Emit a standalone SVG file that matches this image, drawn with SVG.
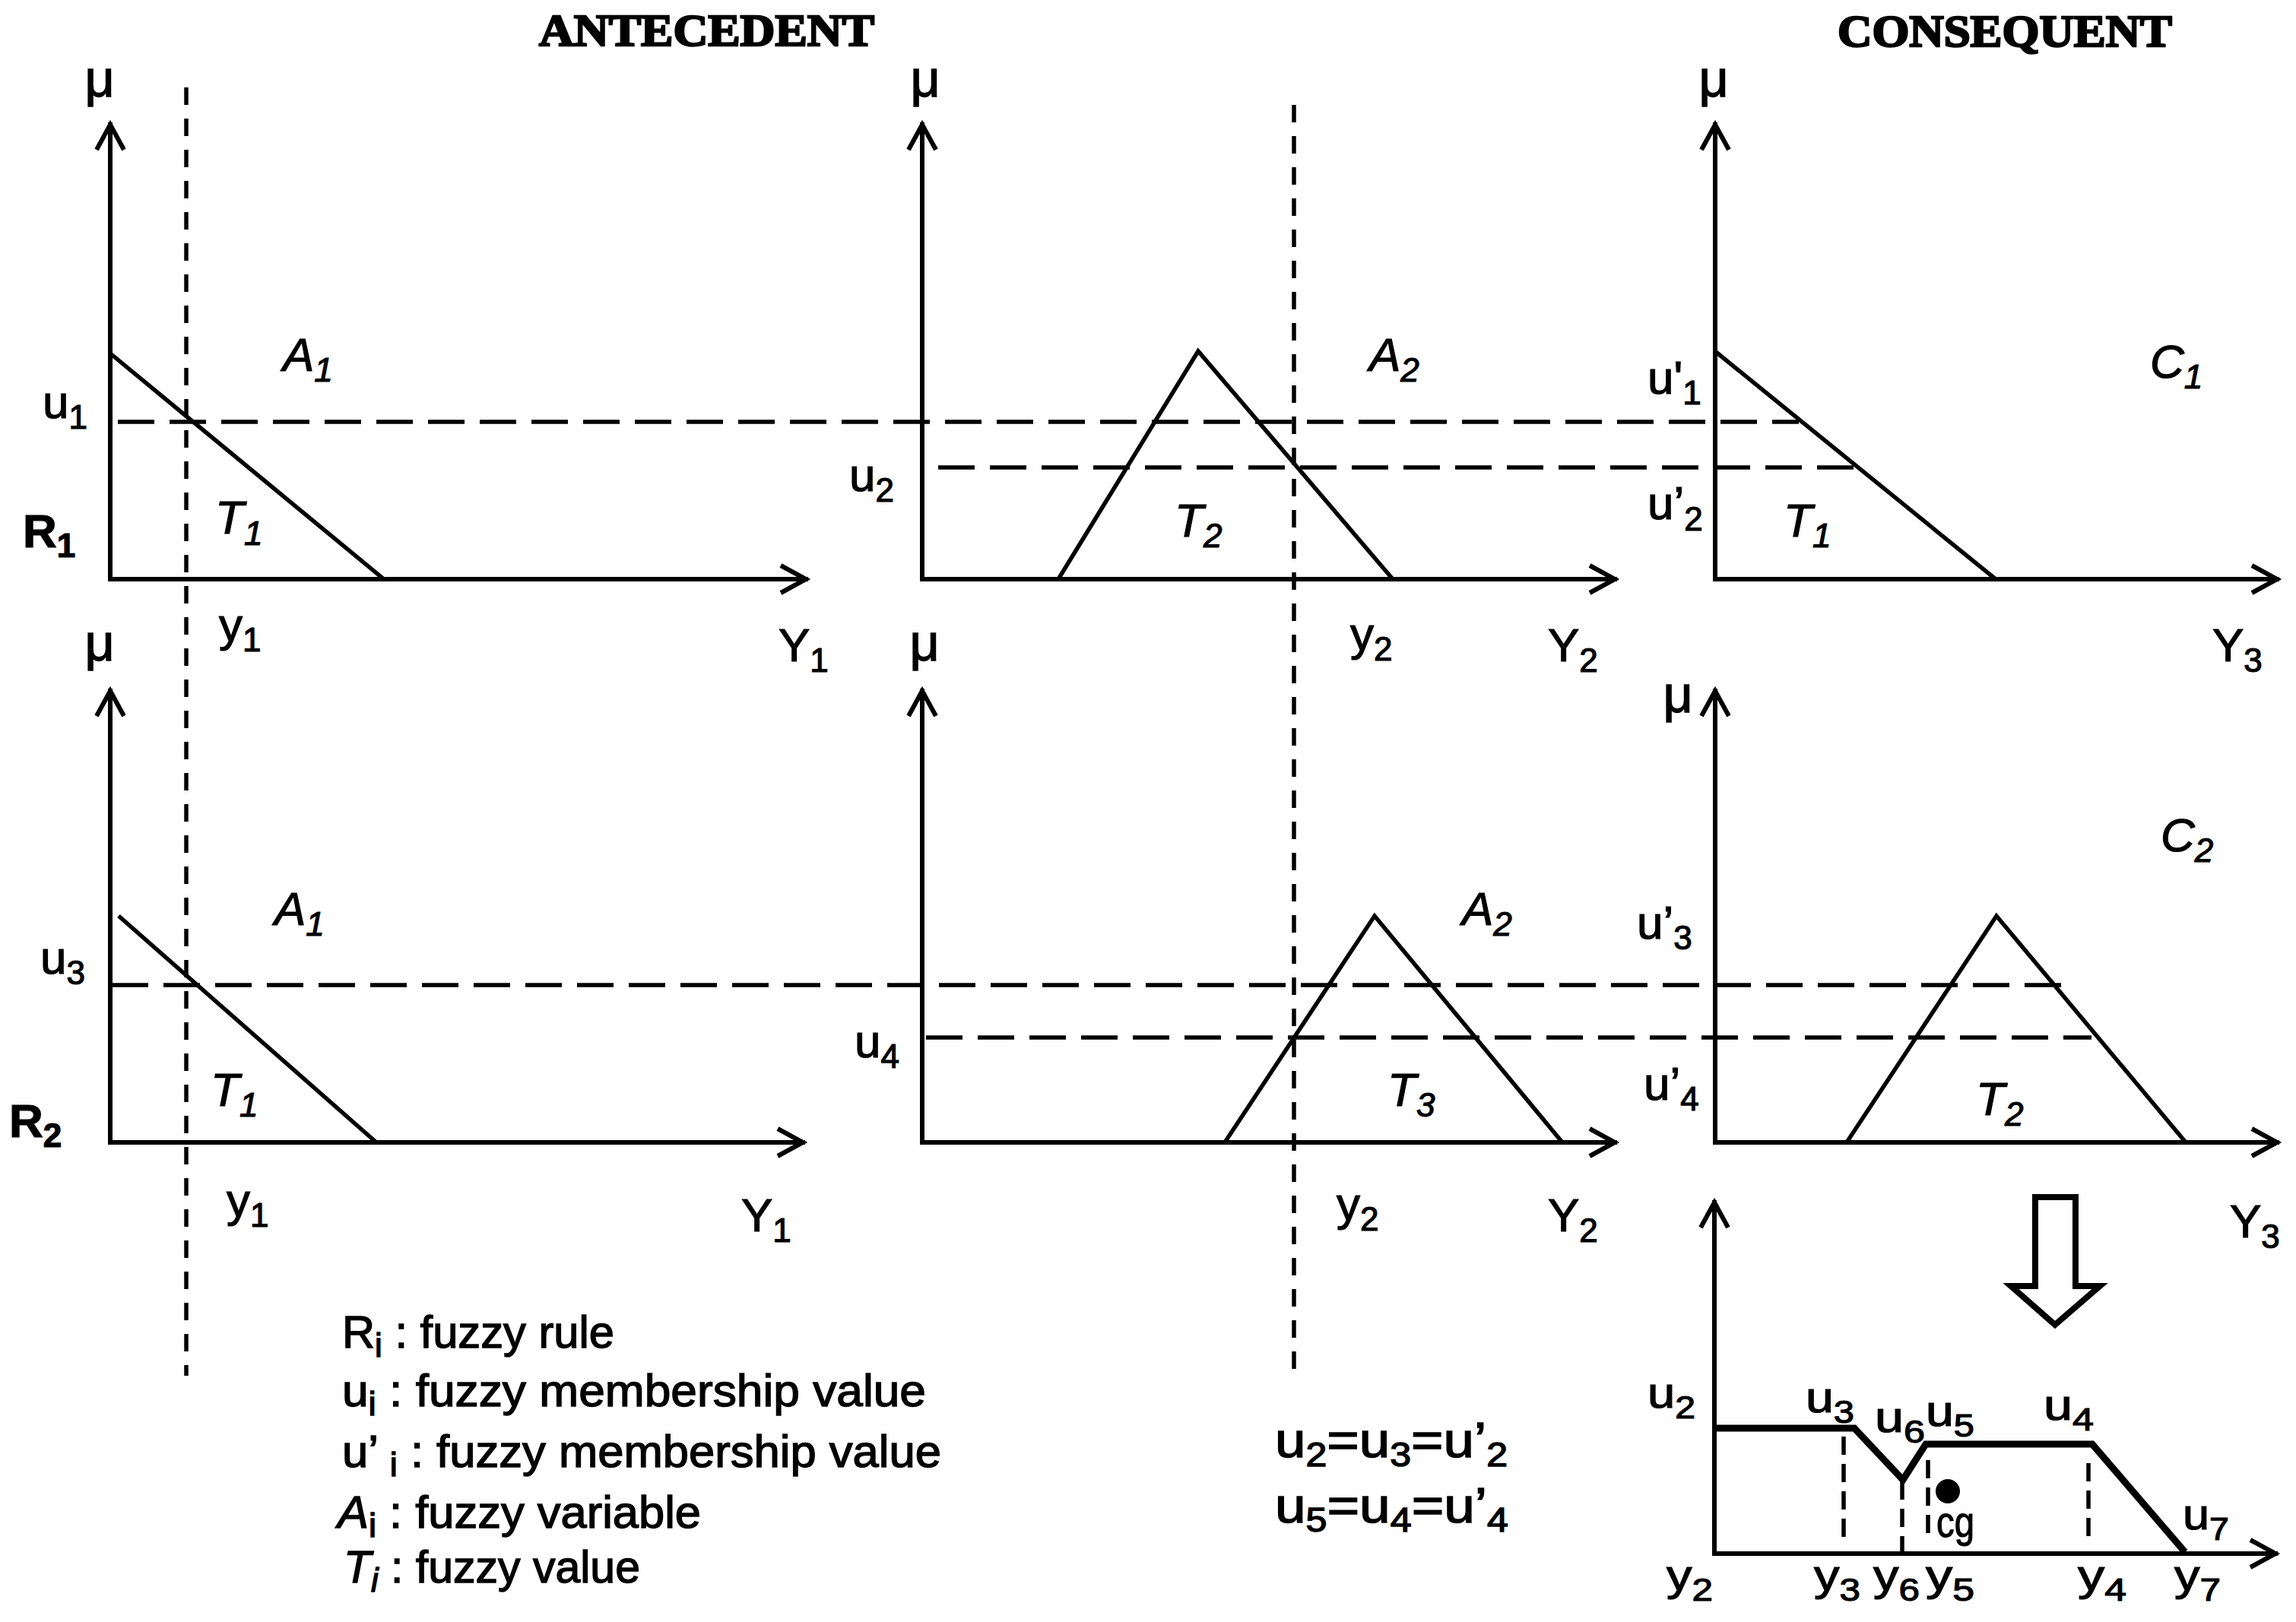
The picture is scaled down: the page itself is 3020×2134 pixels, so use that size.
<svg xmlns="http://www.w3.org/2000/svg" width="3020" height="2134" viewBox="0 0 3020 2134">
<style>
.ax{fill:none;stroke:#000;stroke-width:6;stroke-linecap:square}
.mf{fill:none;stroke:#000;stroke-width:5.5;stroke-linejoin:miter}
.hd{fill:none;stroke:#000;stroke-width:5.5;stroke-dasharray:48 20}
.vd{fill:none;stroke:#000;stroke-width:5.5;stroke-dasharray:23 18}
.sd{fill:none;stroke:#000;stroke-width:5.5;stroke-dasharray:24 12}
.t{font-family:"Liberation Sans",Arial,sans-serif;font-size:62px;fill:#000;stroke:#000;stroke-width:1.2}
.o{font-size:57px}
.mu{font-family:"Liberation Sans",Arial,sans-serif;font-size:68px;fill:#000;stroke:#000;stroke-width:1.4;text-anchor:middle}
.s{font-size:44px}
.so{font-size:42px}
.i{font-style:italic}
.b{font-weight:bold}
.ttl{font-family:"Liberation Serif","Times New Roman",serif;font-weight:bold;font-size:60px;fill:#000;stroke:#000;stroke-width:2.5}
.lg{font-family:"Liberation Sans",Arial,sans-serif;font-size:60px;fill:#000;stroke:#000;stroke-width:1.4}
.eq{font-family:"Liberation Sans",Arial,sans-serif;font-size:64px;fill:#000;stroke:#000;stroke-width:1.4}
</style>
<defs>
<marker id="arr" viewBox="-40 -25 50 50" markerWidth="50" markerHeight="50" refX="0" refY="0" orient="auto" markerUnits="userSpaceOnUse" overflow="visible">
<path d="M-33,-18 L0,0 L-33,18" fill="none" stroke="#000" stroke-width="6" stroke-linejoin="miter"/>
</marker>
</defs>
<rect width="3020" height="2134" fill="#fff"/>

<g id="titles">
<text class="ttl" x="709" y="60" textLength="441" lengthAdjust="spacingAndGlyphs">ANTECEDENT</text>
<text class="ttl" x="2417" y="61" textLength="440" lengthAdjust="spacingAndGlyphs">CONSEQUENT</text>
</g>

<g id="connectors">
<line class="hd" x1="155" y1="555" x2="2366" y2="555"/>
<line class="hd" x1="1234" y1="615" x2="2442" y2="615"/>
<line class="hd" x1="147" y1="1296" x2="2725" y2="1296"/>
<line class="hd" x1="1218" y1="1365" x2="2751" y2="1365"/>
<line class="vd" x1="245" y1="115" x2="245" y2="1810"/>
<line class="vd" x1="1702" y1="138" x2="1702" y2="1810"/>
</g>

<g id="panel-r1-a1">
<line class="ax" x1="145" y1="762" x2="145" y2="164" marker-end="url(#arr)"/>
<line class="ax" x1="145" y1="762" x2="1060" y2="762" marker-end="url(#arr)"/>
<polyline class="mf" points="145,465 505,762"/>
<text class="mu" x="131" y="127">μ</text>
<text class="t" x="56" y="550">u<tspan class="s" dy="14">1</tspan></text>
<text class="t i" x="372" y="488">A<tspan class="s" dy="14">1</tspan></text>
<text class="t i" x="283" y="702">T<tspan class="s" dy="15">1</tspan></text>
<text class="t b" x="30" y="720">R<tspan class="s" dy="13">1</tspan></text>
<text class="t" x="288" y="843">y<tspan class="s" dy="14">1</tspan></text>
<text class="t" x="1024" y="870">Y<tspan class="s" dy="14">1</tspan></text>
</g>

<g id="panel-r1-a2">
<line class="ax" x1="1213" y1="762" x2="1213" y2="164" marker-end="url(#arr)"/>
<line class="ax" x1="1213" y1="762" x2="2124" y2="762" marker-end="url(#arr)"/>
<polyline class="mf" points="1392,762 1576,462 1832,762"/>
<text class="mu" x="1217" y="127">μ</text>
<text class="t" x="1117" y="646">u<tspan class="s" dy="14">2</tspan></text>
<text class="t i" x="1801" y="488">A<tspan class="s" dy="14">2</tspan></text>
<text class="t i" x="1545" y="706">T<tspan class="s" dy="14">2</tspan></text>
<text class="t" x="1776" y="855">y<tspan class="s" dy="14">2</tspan></text>
<text class="t" x="2036" y="870">Y<tspan class="s" dy="14">2</tspan></text>
</g>

<g id="panel-r1-c1">
<line class="ax" x1="2256" y1="762" x2="2256" y2="164" marker-end="url(#arr)"/>
<line class="ax" x1="2256" y1="762" x2="2995" y2="762" marker-end="url(#arr)"/>
<polyline class="mf" points="2257,463 2625,762"/>
<text class="mu" x="2254" y="127">μ</text>
<text class="t" x="2167" y="518">u'<tspan class="s" dy="14">1</tspan></text>
<text class="t" x="2167" y="683">u’<tspan class="s" dy="15">2</tspan></text>
<text class="t i" x="2346" y="706">T<tspan class="s" dy="14">1</tspan></text>
<text class="t i" x="2828" y="497">C<tspan class="s" dy="14">1</tspan></text>
<text class="t" x="2910" y="870">Y<tspan class="s" dy="14">3</tspan></text>
</g>

<g id="panel-r2-a1">
<line class="ax" x1="145" y1="1503" x2="145" y2="909" marker-end="url(#arr)"/>
<line class="ax" x1="145" y1="1503" x2="1056" y2="1503" marker-end="url(#arr)"/>
<polyline class="mf" points="156,1205 495,1503"/>
<text class="mu" x="131" y="869">μ</text>
<text class="t" x="53" y="1281">u<tspan class="s" dy="14">3</tspan></text>
<text class="t i" x="361" y="1217">A<tspan class="s" dy="14">1</tspan></text>
<text class="t i" x="277" y="1455">T<tspan class="s" dy="14">1</tspan></text>
<text class="t b" x="12" y="1496">R<tspan class="s" dy="13">2</tspan></text>
<text class="t" x="298" y="1600">y<tspan class="s" dy="14">1</tspan></text>
<text class="t" x="975" y="1620">Y<tspan class="s" dy="14">1</tspan></text>
</g>

<g id="panel-r2-a2">
<line class="ax" x1="1213" y1="1503" x2="1213" y2="909" marker-end="url(#arr)"/>
<line class="ax" x1="1213" y1="1503" x2="2124" y2="1503" marker-end="url(#arr)"/>
<polyline class="mf" points="1611,1503 1808,1205 2055,1503"/>
<text class="mu" x="1216" y="869">μ</text>
<text class="t" x="1124" y="1391">u<tspan class="s" dy="14">4</tspan></text>
<text class="t i" x="1923" y="1217">A<tspan class="s" dy="14">2</tspan></text>
<text class="t i" x="1825" y="1455">T<tspan class="s" dy="14">3</tspan></text>
<text class="t" x="1758" y="1605">y<tspan class="s" dy="14">2</tspan></text>
<text class="t" x="2036" y="1620">Y<tspan class="s" dy="14">2</tspan></text>
</g>

<g id="panel-r2-c2">
<line class="ax" x1="2256" y1="1503" x2="2256" y2="909" marker-end="url(#arr)"/>
<line class="ax" x1="2256" y1="1503" x2="2995" y2="1503" marker-end="url(#arr)"/>
<polyline class="mf" points="2429,1503 2626,1205 2875,1503"/>
<text class="mu" x="2207" y="937">μ</text>
<text class="t" x="2153" y="1235">u’<tspan class="s" dy="14">3</tspan></text>
<text class="t" x="2162" y="1447">u’<tspan class="s" dy="14">4</tspan></text>
<text class="t i" x="2842" y="1120">C<tspan class="s" dy="14">2</tspan></text>
<text class="t i" x="2599" y="1467">T<tspan class="s" dy="14">2</tspan></text>
<text class="t" x="2933" y="1628">Y<tspan class="s" dy="14">3</tspan></text>
</g>

<g id="down-arrow">
<polygon points="2677,1575 2730,1575 2730,1692 2762,1692 2703,1743 2645,1692 2677,1692" fill="#fff" stroke="#000" stroke-width="8" stroke-linejoin="miter"/>
</g>

<g id="panel-output">
<line class="ax" x1="2255" y1="2044" x2="2255" y2="1582" marker-end="url(#arr)"/>
<line class="ax" x1="2255" y1="2044" x2="2993" y2="2044" marker-end="url(#arr)"/>
<polyline points="2258,1879 2439,1879 2503,1947 2533,1900 2752,1900 2874,2042" fill="none" stroke="#000" stroke-width="9" stroke-linejoin="miter"/>
<line class="sd" x1="2425" y1="1890" x2="2425" y2="2034"/>
<line class="sd" x1="2502" y1="1949" x2="2502" y2="2044"/>
<line class="sd" x1="2536" y1="1921" x2="2536" y2="2026"/>
<line class="sd" x1="2747" y1="1925" x2="2747" y2="2028"/>
<circle cx="2562" cy="1962" r="16" fill="#000"/>
<text class="t o" x="2167" y="1852" textLength="63" lengthAdjust="spacingAndGlyphs">u<tspan class="so" dy="14">2</tspan></text>
<text class="t o" x="2375" y="1858" textLength="64" lengthAdjust="spacingAndGlyphs">u<tspan class="so" dy="14">3</tspan></text>
<text class="t o" x="2466" y="1884" textLength="66" lengthAdjust="spacingAndGlyphs">u<tspan class="so" dy="14">6</tspan></text>
<text class="t o" x="2533" y="1876" textLength="64" lengthAdjust="spacingAndGlyphs">u<tspan class="so" dy="14">5</tspan></text>
<text class="t o" x="2688" y="1868" textLength="66" lengthAdjust="spacingAndGlyphs">u<tspan class="so" dy="14">4</tspan></text>
<text class="t o" x="2871" y="2012" textLength="61" lengthAdjust="spacingAndGlyphs">u<tspan class="so" dy="14">7</tspan></text>
<text class="t o" x="2547" y="2022" textLength="50" lengthAdjust="spacingAndGlyphs">cg</text>
<text class="t o" x="2192" y="2092" textLength="61" lengthAdjust="spacingAndGlyphs">y<tspan class="so" dy="14">2</tspan></text>
<text class="t o" x="2386" y="2092" textLength="61" lengthAdjust="spacingAndGlyphs">y<tspan class="so" dy="14">3</tspan></text>
<text class="t o" x="2464" y="2092" textLength="61" lengthAdjust="spacingAndGlyphs">y<tspan class="so" dy="14">6</tspan></text>
<text class="t o" x="2533" y="2092" textLength="64" lengthAdjust="spacingAndGlyphs">y<tspan class="so" dy="14">5</tspan></text>
<text class="t o" x="2733" y="2092" textLength="64" lengthAdjust="spacingAndGlyphs">y<tspan class="so" dy="14">4</tspan></text>
<text class="t o" x="2860" y="2092" textLength="61" lengthAdjust="spacingAndGlyphs">y<tspan class="so" dy="14">7</tspan></text>
</g>

<g id="legend">
<text class="lg" x="450" y="1773" textLength="358" lengthAdjust="spacingAndGlyphs">R<tspan class="s" dy="12">i</tspan><tspan dy="-12"> : fuzzy rule</tspan></text>
<text class="lg" x="450" y="1850" textLength="768" lengthAdjust="spacingAndGlyphs">u<tspan class="s" dy="12">i</tspan><tspan dy="-12"> : fuzzy membership value</tspan></text>
<text class="lg" x="450" y="1930" textLength="788" lengthAdjust="spacingAndGlyphs">u’ <tspan class="s" dy="12">i</tspan><tspan dy="-12"> : fuzzy membership value</tspan></text>
<text class="lg" x="444" y="2010" textLength="478" lengthAdjust="spacingAndGlyphs"><tspan class="i">A</tspan><tspan class="s" dy="12">i</tspan><tspan dy="-12"> : fuzzy variable</tspan></text>
<text class="lg" x="452" y="2082" textLength="390" lengthAdjust="spacingAndGlyphs"><tspan class="i">T</tspan><tspan class="s i" dy="12">i</tspan><tspan dy="-12"> : fuzzy value</tspan></text>
</g>

<g id="equations">
<text class="eq" x="1677" y="1917" textLength="306" lengthAdjust="spacingAndGlyphs">u<tspan class="s" dy="12">2</tspan><tspan dy="-12">=u</tspan><tspan class="s" dy="12">3</tspan><tspan dy="-12">=u’</tspan><tspan class="s" dy="12">2</tspan></text>
<text class="eq" x="1677" y="2003" textLength="307" lengthAdjust="spacingAndGlyphs">u<tspan class="s" dy="12">5</tspan><tspan dy="-12">=u</tspan><tspan class="s" dy="12">4</tspan><tspan dy="-12">=u’</tspan><tspan class="s" dy="12">4</tspan></text>
</g>
</svg>
